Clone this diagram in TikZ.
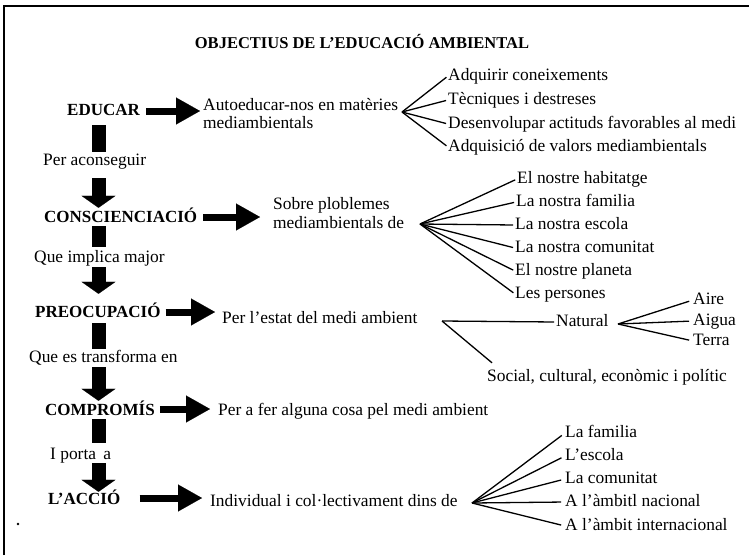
\documentclass[tikz,border=0pt]{standalone}
\usepackage{fontspec}
\setmainfont{Liberation Serif}
\usetikzlibrary{arrows.meta}
\begin{document}
\begin{tikzpicture}[x=1pt,y=-1pt,
  lbl/.style={inner sep=0pt, anchor=base west, font=\fontsize{17.4}{18}\selectfont, text height=12pt, text depth=4pt},
  key/.style={lbl, font=\fontsize{17}{18}\selectfont\bfseries},
  fan/.style={line width=1.3pt, shorten >=2pt},
  bar/.style={line width=14pt},
  down/.style={line width=14pt, -{Triangle[length=12pt,width=34pt,line width=0.1pt]}},
  harrow/.style={line width=7pt, -{Triangle[length=24pt,width=27pt,line width=0.1pt]}}]
\useasboundingbox (0,0) rectangle (749,555);
\draw[line width=2pt] (4,555) -- (4,6) -- (749,6);
\fill (18,524) circle (1.3pt);

\node[font=\fontsize{16.5}{18}\selectfont\bfseries, inner sep=0pt, anchor=base] (title) at (362,48) {OBJECTIUS DE L’EDUCACIÓ AMBIENTAL};

% left column
\coordinate (spine) at (98.5,0);
\node[key] (educar) at (67,115) {EDUCAR};
\node[lbl] (peracon) at (43,165) {Per aconseguir};
\node[key] (consc) at (44,222) {CONSCIENCIACIÓ};
\node[lbl] (implica) at (34,262) {Que implica major};
\node[key] (preoc) at (35,317) {PREOCUPACIÓ};
\node[lbl] (transf) at (29,362) {Que es transforma en};
\node[key] (compr) at (45,415) {COMPROMÍS};
\node[lbl] (porta) at (50,459) {I porta\hspace{3pt} a};
\node[key] (accio) at (48,504) {L’ACCIÓ};

\draw[bar, shorten <=6pt, shorten >=1pt] (spine |- educar.south) -- (spine |- peracon.north);
\draw[down, shorten <=9pt, shorten >=2pt] (spine |- peracon.south) -- (spine |- consc.north);
\draw[bar, shorten >=3pt] (spine |- consc.south) -- (spine |- implica.north);
\draw[down, shorten <=1pt, shorten >=11pt] (spine |- implica.south) -- (spine |- preoc.north);
\draw[bar, shorten <=2pt, shorten >=1pt] (spine |- preoc.south) -- (spine |- transf.north);
\draw[down, shorten <=1pt, shorten >=2pt] (spine |- transf.south) -- (spine |- compr.north);
\draw[bar, shorten >=4pt] (spine |- compr.south) -- (spine |- porta.north);
\draw[down] (spine |- porta.south) -- (spine |- accio.north);

% EDUCAR branch
\node[lbl] (auto) at (203,110) {Autoeducar-nos en matèries};
\node[lbl] (auto2) at (203,128) {mediambientals};
\draw[harrow, shorten <=6pt, shorten >=3pt] (educar.east) -- (educar.east -| auto.west);
\coordinate (f1) at (402,112);
\node[lbl] (e1) at (448,80) {Adquirir coneixements};
\node[lbl] (e2) at (448,104) {Tècniques i destreses};
\node[lbl] (e3) at (448,128) {Desenvolupar actituds favorables al medi};
\node[lbl] (e4) at (448,151) {Adquisició de valors mediambientals};
\foreach \n in {e1,e2,e3,e4} \draw[fan] (f1) -- (\n.west);

% CONSCIENCIACIO branch
\node[lbl] (sobre) at (273,209) {Sobre ploblemes};
\node[lbl] (sobre2) at (273,228) {mediambientals de};
\draw[harrow, shorten <=6pt, shorten >=13pt] ([yshift=1pt]consc.east) -- ([yshift=1pt]consc.east -| sobre.west);
\coordinate (f2) at (420,224);
\node[lbl] (c1) at (517,183) {El nostre habitatge};
\node[lbl] (c2) at (516,206) {La nostra familia};
\node[lbl] (c3) at (515,229) {La nostra escola};
\node[lbl] (c4) at (515,252) {La nostra comunitat};
\node[lbl] (c5) at (515,275) {El nostre planeta};
\node[lbl] (c6) at (515,298) {Les persones};
\foreach \n in {c1,c2,c3,c4,c5,c6} \draw[fan] (f2) -- (\n.west);

% PREOCUPACIO branch
\node[lbl] (estat) at (222,323) {Per l’estat del medi ambient};
\draw[harrow, shorten <=5pt, shorten >=7pt] ([yshift=1pt]preoc.east) -- ([yshift=1pt]preoc.east -| estat.west);
\coordinate (f3) at (442,321);
\node[lbl] (natural) at (556,326) {Natural};
\node[lbl] (social) at (487,381) {Social, cultural, econòmic i polític};
\draw[fan] (f3) -- (natural.west);
\draw[line width=1.3pt] (f3) -- ([xshift=5pt,yshift=6pt]social.north west);
\coordinate (f4) at (618,324);
\node[lbl] (aire) at (693,304) {Aire};
\node[lbl] (aigua) at (693,325) {Aigua};
\node[lbl] (terra) at (693,345) {Terra};
\foreach \n in {aire,aigua,terra} \draw[fan, shorten >=4pt] (f4) -- (\n.west);

% COMPROMIS branch
\node[lbl] (perafer) at (218,415) {Per a fer alguna cosa pel medi ambient};
\draw[harrow, shorten <=5pt, shorten >=8pt] ([yshift=2pt]compr.east) -- ([yshift=2pt]compr.east -| perafer.west);

% ACCIO branch
\node[lbl] (indiv) at (210,506) {Individual i col·lectivament dins de};
\draw[harrow, shorten <=19pt, shorten >=8pt] ([yshift=2pt]accio.east) -- ([yshift=2pt]accio.east -| indiv.west);
\coordinate (f5) at (472,503);
\node[lbl] (a1) at (565,437) {La familia};
\node[lbl] (a2) at (565,460) {L’escola};
\node[lbl] (a3) at (565,483) {La comunitat};
\node[lbl] (a4) at (565,506) {A l’àmbitl nacional};
\node[lbl] (a5) at (565,530) {A l’àmbit internacional};
\foreach \n in {a1,a2,a3,a4,a5} \draw[fan, shorten >=4pt] (f5) -- (\n.west);
\end{tikzpicture}
\end{document}
